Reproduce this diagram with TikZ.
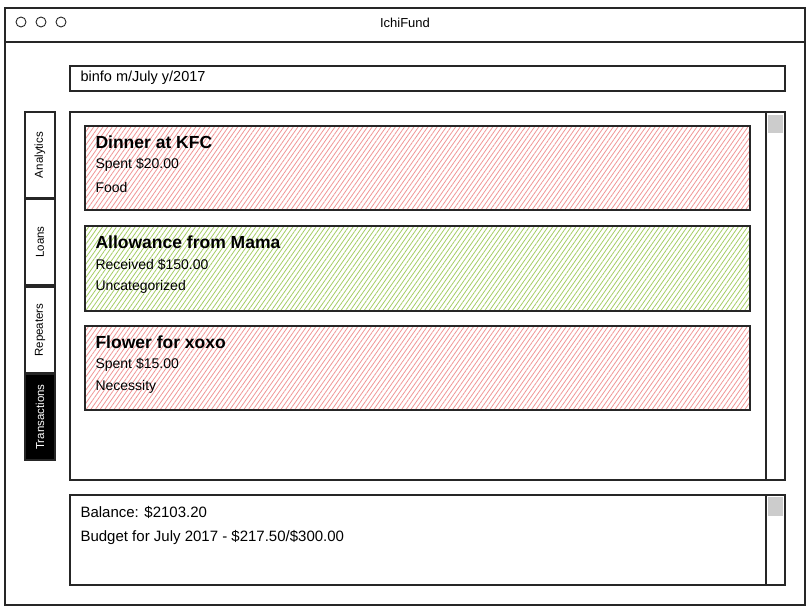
\documentclass[tikz,border=0pt]{standalone}
\usepackage{fontspec}
\setmainfont{Liberation Sans}
\usetikzlibrary{patterns.meta}
\definecolor{spentred}{RGB}{240,150,150}
\definecolor{gotgreen}{RGB}{165,205,100}
\definecolor{thumbgray}{RGB}{204,204,204}

\begin{document}
\begin{tikzpicture}[x=1pt,y=-1pt,line width=1.1pt,
                box/.style={draw=black!85},
                card/.style={draw=black!85,pattern={Lines[angle=55,distance=3.8pt,line width=0.8pt]}},
                tab/.style={draw=black!85,rotate=90,minimum width=86pt,minimum height=30pt,font=\fontsize{11.5}{13}\selectfont},
                card title/.style={anchor=west,inner sep=0pt,font=\fontsize{17.5}{20}\selectfont\bfseries},
                card line/.style={anchor=west,inner sep=0pt,font=\fontsize{14}{16}\selectfont}]
                \useasboundingbox (0,0) rectangle (810,612);
                % window
                \draw[box] (5,8) rectangle (805,605);
                \draw[box] (5,42) -- (805,42);
                \draw[box,line width=0.9pt] (21,22) circle (5) (41,22) circle (5) (61,22) circle (5);
                \node[font=\fontsize{13}{15}\selectfont] (title) at (405,23) {IchiFund};
                % command box
                \draw[box] (70,66) rectangle (785,91);
                \node[card line,font=\fontsize{14.5}{16}\selectfont] (cmd) at (80,78) {binfo m/July y/2017};
                % tabs
                \node[tab] (analytics) at (40,155) {Analytics};
                \node[tab] (loans) at (40,242) {Loans};
                \node[tab] (repeaters) at (40,330) {Repeaters};
                \node[tab,fill=black,text=white] (transactions) at (40,417) {Transactions};
                % list panel
                \draw[box] (70,112) rectangle (785,480);
                \draw[box] (766,112) -- (766,480);
                \fill[thumbgray] (768,115) rectangle (783,133);
                \draw[card,pattern color=spentred] (85,126) rectangle (750,210);
                \node[card title] (kfc) at (95,142) {Dinner at KFC};
                \node[card line] (kfc amt) at (95,165) {Spent \$20.00};
                \node[card line] (kfc cat) at (95,187) {Food};
                \draw[card,pattern color=gotgreen] (85,226) rectangle (750,311);
                \node[card title] (mama) at (95,242) {Allowance from Mama};
                \node[card line] (mama amt) at (95,265) {Received \$150.00};
                \node[card line] (mama cat) at (95,287) {Uncategorized};
                \draw[card,pattern color=spentred] (85,326) rectangle (750,410);
                \node[card title] (xoxo) at (95,342) {Flower for xoxo};
                \node[card line] (xoxo amt) at (95,365) {Spent \$15.00};
                \node[card line] (xoxo cat) at (95,387) {Necessity};
                % status panel
                \draw[box] (70,495) rectangle (785,585);
                \draw[box] (766,495) -- (766,585);
                \fill[thumbgray] (768,497) rectangle (783,516);
                \node[card line,font=\fontsize{15}{17}\selectfont] (balance) at (80,512) {Balance: \$2103.20};
                \node[card line,font=\fontsize{15}{17}\selectfont] (budget) at (80,537) {Budget for July 2017 - \$217.50/\$300.00};
                \end{tikzpicture}
\end{document}
